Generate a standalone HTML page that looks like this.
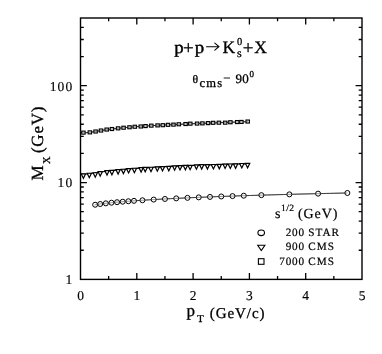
<!DOCTYPE html>
<html><head><meta charset="utf-8"><title>plot</title>
<style>html,body{margin:0;padding:0;background:#fff;}svg{display:block;filter:grayscale(1);}text{font-family:"Liberation Serif",serif;fill:#000;text-rendering:geometricPrecision;}</style></head><body>
<svg width="382" height="354" viewBox="0 0 382 354">
<rect x="0" y="0" width="382" height="354" fill="#fff"/>
<rect x="80.5" y="18.00" width="281.50" height="261.40" fill="none" stroke="#000" stroke-width="1.4"/>
<path d="M108.65 279.40v-3.3 M108.65 18.00v3.3 M136.80 279.40v-6.4 M136.80 18.00v6.4 M164.95 279.40v-3.3 M164.95 18.00v3.3 M193.10 279.40v-6.4 M193.10 18.00v6.4 M221.25 279.40v-3.3 M221.25 18.00v3.3 M249.40 279.40v-6.4 M249.40 18.00v6.4 M277.55 279.40v-3.3 M277.55 18.00v3.3 M305.70 279.40v-6.4 M305.70 18.00v6.4 M333.85 279.40v-3.3 M333.85 18.00v3.3 M80.5 250.25h3.3 M362.0 250.25h-3.3 M80.5 233.19h3.3 M362.0 233.19h-3.3 M80.5 221.09h3.3 M362.0 221.09h-3.3 M80.5 211.70h3.3 M362.0 211.70h-3.3 M80.5 204.04h3.3 M362.0 204.04h-3.3 M80.5 197.55h3.3 M362.0 197.55h-3.3 M80.5 191.94h3.3 M362.0 191.94h-3.3 M80.5 186.98h3.3 M362.0 186.98h-3.3 M80.5 182.55h6.4 M362.0 182.55h-6.4 M80.5 153.40h3.3 M362.0 153.40h-3.3 M80.5 136.34h3.3 M362.0 136.34h-3.3 M80.5 124.24h3.3 M362.0 124.24h-3.3 M80.5 114.85h3.3 M362.0 114.85h-3.3 M80.5 107.19h3.3 M362.0 107.19h-3.3 M80.5 100.70h3.3 M362.0 100.70h-3.3 M80.5 95.09h3.3 M362.0 95.09h-3.3 M80.5 90.13h3.3 M362.0 90.13h-3.3 M80.5 85.70h6.4 M362.0 85.70h-6.4 M80.5 56.55h3.3 M362.0 56.55h-3.3 M80.5 39.49h3.3 M362.0 39.49h-3.3 M80.5 27.39h3.3 M362.0 27.39h-3.3" stroke="#000" stroke-width="1.3" fill="none"/>
<polyline points="80.50,131.45 83.29,132.64 86.08,132.70 88.88,132.44 91.67,132.05 94.46,131.61 97.25,131.16 100.04,130.71 102.83,130.28 105.62,129.87 108.42,129.49 111.21,129.12 114.00,128.78 116.79,128.45 119.58,128.15 122.38,127.86 125.17,127.60 127.96,127.35 130.75,127.11 133.54,126.89 136.33,126.67 139.12,126.47 141.92,126.29 144.71,126.10 147.50,125.93 150.29,125.77 153.08,125.61 155.88,125.45 158.67,125.31 161.46,125.16 164.25,125.02 167.04,124.89 169.83,124.76 172.62,124.63 175.42,124.50 178.21,124.37 181.00,124.25 183.79,124.13 186.58,124.01 189.38,123.89 192.17,123.77 194.96,123.65 197.75,123.54 200.54,123.42 203.33,123.31 206.12,123.19 208.92,123.08 211.71,122.97 214.50,122.86 217.29,122.75 220.08,122.64 222.88,122.53 225.67,122.43 228.46,122.33 231.25,122.22 234.04,122.12 236.83,122.03 239.62,121.93 242.42,121.84 245.21,121.75 248.00,121.66" fill="none" stroke="#000" stroke-width="0.9"/>
<polyline points="80.50,173.92 83.32,174.21 86.13,174.01 88.95,173.67 91.77,173.27 94.58,172.87 97.40,172.47 100.22,172.08 103.03,171.70 105.85,171.34 108.67,171.00 111.48,170.67 114.30,170.36 117.12,170.07 119.93,169.79 122.75,169.52 125.57,169.26 128.38,169.02 131.20,168.79 134.02,168.57 136.83,168.36 139.65,168.16 142.47,167.96 145.28,167.78 148.10,167.60 150.92,167.43 153.73,167.27 156.55,167.11 159.37,166.96 162.18,166.81 165.00,166.67 167.82,166.53 170.63,166.39 173.45,166.26 176.27,166.14 179.08,166.01 181.90,165.89 184.72,165.78 187.53,165.67 190.35,165.55 193.17,165.45 195.98,165.34 198.80,165.24 201.62,165.14 204.43,165.04 207.25,164.95 210.07,164.85 212.88,164.76 215.70,164.67 218.52,164.58 221.33,164.50 224.15,164.42 226.97,164.34 229.78,164.26 232.60,164.18 235.42,164.11 238.23,164.04 241.05,163.97 243.87,163.90 246.68,163.83 249.50,163.77" fill="none" stroke="#000" stroke-width="1.1"/>
<polyline points="94.58,204.82 98.79,204.20 103.00,203.66 107.21,203.17 111.43,202.73 115.64,202.33 119.85,201.95 124.07,201.59 128.28,201.26 132.49,200.95 136.71,200.65 140.92,200.36 145.13,200.09 149.35,199.83 153.56,199.58 157.77,199.33 161.98,199.10 166.20,198.88 170.41,198.66 174.62,198.45 178.84,198.25 183.05,198.05 187.26,197.86 191.48,197.67 195.69,197.49 199.90,197.31 204.12,197.14 208.33,196.97 212.54,196.81 216.76,196.65 220.97,196.49 225.18,196.34 229.39,196.19 233.61,196.04 237.82,195.90 242.03,195.76 246.25,195.62 250.46,195.49 254.67,195.36 258.89,195.23 263.10,195.10 267.31,194.98 271.53,194.86 275.74,194.74 279.95,194.62 284.17,194.50 288.38,194.39 292.59,194.28 296.80,194.17 301.02,194.06 305.23,193.96 309.44,193.85 313.66,193.75 317.87,193.65 322.08,193.55 326.30,193.45 330.51,193.36 334.72,193.26 338.94,193.17 343.15,193.08 347.36,192.99" fill="none" stroke="#000" stroke-width="0.7"/>
<rect x="81.70" y="131.12" width="3.4" height="3.0" fill="#fff" stroke="#000" stroke-width="1.15"/>
<rect x="88.15" y="130.85" width="3.4" height="3.0" fill="#fff" stroke="#000" stroke-width="1.15"/>
<rect x="93.90" y="130.01" width="3.4" height="3.0" fill="#fff" stroke="#000" stroke-width="1.15"/>
<rect x="99.30" y="129.03" width="3.4" height="3.0" fill="#fff" stroke="#000" stroke-width="1.15"/>
<rect x="105.00" y="128.06" width="3.4" height="3.0" fill="#fff" stroke="#000" stroke-width="1.15"/>
<rect x="110.20" y="127.52" width="3.4" height="3.0" fill="#fff" stroke="#000" stroke-width="1.15"/>
<rect x="116.40" y="126.85" width="3.4" height="3.0" fill="#fff" stroke="#000" stroke-width="1.15"/>
<rect x="121.90" y="126.22" width="3.4" height="3.0" fill="#fff" stroke="#000" stroke-width="1.15"/>
<rect x="127.80" y="125.76" width="3.4" height="3.0" fill="#fff" stroke="#000" stroke-width="1.15"/>
<rect x="133.10" y="125.24" width="3.4" height="3.0" fill="#fff" stroke="#000" stroke-width="1.15"/>
<rect x="139.10" y="124.98" width="3.4" height="3.0" fill="#fff" stroke="#000" stroke-width="1.15"/>
<rect x="143.80" y="124.58" width="3.4" height="3.0" fill="#fff" stroke="#000" stroke-width="1.15"/>
<rect x="149.60" y="124.15" width="3.4" height="3.0" fill="#fff" stroke="#000" stroke-width="1.15"/>
<rect x="155.90" y="123.88" width="3.4" height="3.0" fill="#fff" stroke="#000" stroke-width="1.15"/>
<rect x="161.10" y="123.70" width="3.4" height="3.0" fill="#fff" stroke="#000" stroke-width="1.15"/>
<rect x="166.30" y="123.32" width="3.4" height="3.0" fill="#fff" stroke="#000" stroke-width="1.15"/>
<rect x="171.80" y="123.14" width="3.4" height="3.0" fill="#fff" stroke="#000" stroke-width="1.15"/>
<rect x="177.10" y="122.77" width="3.4" height="3.0" fill="#fff" stroke="#000" stroke-width="1.15"/>
<rect x="183.90" y="122.53" width="3.4" height="3.0" fill="#fff" stroke="#000" stroke-width="1.15"/>
<rect x="188.60" y="122.17" width="3.4" height="3.0" fill="#fff" stroke="#000" stroke-width="1.15"/>
<rect x="195.40" y="122.08" width="3.4" height="3.0" fill="#fff" stroke="#000" stroke-width="1.15"/>
<rect x="200.70" y="121.87" width="3.4" height="3.0" fill="#fff" stroke="#000" stroke-width="1.15"/>
<rect x="206.40" y="121.61" width="3.4" height="3.0" fill="#fff" stroke="#000" stroke-width="1.15"/>
<rect x="211.40" y="121.31" width="3.4" height="3.0" fill="#fff" stroke="#000" stroke-width="1.15"/>
<rect x="217.20" y="121.19" width="3.4" height="3.0" fill="#fff" stroke="#000" stroke-width="1.15"/>
<rect x="223.50" y="121.17" width="3.4" height="3.0" fill="#fff" stroke="#000" stroke-width="1.15"/>
<rect x="228.70" y="120.73" width="3.4" height="3.0" fill="#fff" stroke="#000" stroke-width="1.15"/>
<rect x="235.50" y="120.56" width="3.4" height="3.0" fill="#fff" stroke="#000" stroke-width="1.15"/>
<rect x="239.70" y="120.44" width="3.4" height="3.0" fill="#fff" stroke="#000" stroke-width="1.15"/>
<rect x="246.00" y="120.04" width="3.4" height="3.0" fill="#fff" stroke="#000" stroke-width="1.15"/>
<path d="M81.25 173.91H85.55L83.40 178.31Z" fill="#fff" stroke="#000" stroke-width="1.2"/>
<path d="M87.15 173.26H91.45L89.30 177.66Z" fill="#fff" stroke="#000" stroke-width="1.2"/>
<path d="M93.10 172.74H97.40L95.25 177.14Z" fill="#fff" stroke="#000" stroke-width="1.2"/>
<path d="M98.05 171.64H102.35L100.20 176.04Z" fill="#fff" stroke="#000" stroke-width="1.2"/>
<path d="M104.85 170.68H109.15L107.00 175.08Z" fill="#fff" stroke="#000" stroke-width="1.2"/>
<path d="M109.75 170.46H114.05L111.90 174.86Z" fill="#fff" stroke="#000" stroke-width="1.2"/>
<path d="M115.95 169.68H120.25L118.10 174.08Z" fill="#fff" stroke="#000" stroke-width="1.2"/>
<path d="M121.25 169.23H125.55L123.40 173.63Z" fill="#fff" stroke="#000" stroke-width="1.2"/>
<path d="M126.45 168.60H130.75L128.60 173.00Z" fill="#fff" stroke="#000" stroke-width="1.2"/>
<path d="M132.25 168.27H136.55L134.40 172.67Z" fill="#fff" stroke="#000" stroke-width="1.2"/>
<path d="M138.95 167.68H143.25L141.10 172.08Z" fill="#fff" stroke="#000" stroke-width="1.2"/>
<path d="M143.05 167.44H147.35L145.20 171.84Z" fill="#fff" stroke="#000" stroke-width="1.2"/>
<path d="M148.85 167.26H153.15L151.00 171.66Z" fill="#fff" stroke="#000" stroke-width="1.2"/>
<path d="M155.15 166.78H159.45L157.30 171.18Z" fill="#fff" stroke="#000" stroke-width="1.2"/>
<path d="M160.35 166.55H164.65L162.50 170.95Z" fill="#fff" stroke="#000" stroke-width="1.2"/>
<path d="M166.65 166.39H170.95L168.80 170.79Z" fill="#fff" stroke="#000" stroke-width="1.2"/>
<path d="M172.45 165.81H176.75L174.60 170.21Z" fill="#fff" stroke="#000" stroke-width="1.2"/>
<path d="M177.85 165.59H182.15L180.00 169.99Z" fill="#fff" stroke="#000" stroke-width="1.2"/>
<path d="M183.25 165.43H187.55L185.40 169.83Z" fill="#fff" stroke="#000" stroke-width="1.2"/>
<path d="M187.95 165.33H192.25L190.10 169.73Z" fill="#fff" stroke="#000" stroke-width="1.2"/>
<path d="M194.25 164.81H198.55L196.40 169.21Z" fill="#fff" stroke="#000" stroke-width="1.2"/>
<path d="M199.55 164.72H203.85L201.70 169.12Z" fill="#fff" stroke="#000" stroke-width="1.2"/>
<path d="M205.25 164.62H209.55L207.40 169.02Z" fill="#fff" stroke="#000" stroke-width="1.2"/>
<path d="M211.25 164.50H215.55L213.40 168.90Z" fill="#fff" stroke="#000" stroke-width="1.2"/>
<path d="M217.15 164.38H221.45L219.30 168.78Z" fill="#fff" stroke="#000" stroke-width="1.2"/>
<path d="M222.95 164.09H227.25L225.10 168.49Z" fill="#fff" stroke="#000" stroke-width="1.2"/>
<path d="M228.15 164.02H232.45L230.30 168.42Z" fill="#fff" stroke="#000" stroke-width="1.2"/>
<path d="M233.45 163.95H237.75L235.60 168.35Z" fill="#fff" stroke="#000" stroke-width="1.2"/>
<path d="M239.65 163.52H243.95L241.80 167.92Z" fill="#fff" stroke="#000" stroke-width="1.2"/>
<path d="M245.45 163.46H249.75L247.60 167.86Z" fill="#fff" stroke="#000" stroke-width="1.2"/>
<circle cx="95.14" cy="204.73" r="2.5" fill="#fff" stroke="#000" stroke-width="1.0"/>
<circle cx="100.20" cy="204.01" r="2.5" fill="#fff" stroke="#000" stroke-width="1.0"/>
<circle cx="105.84" cy="203.33" r="2.5" fill="#fff" stroke="#000" stroke-width="1.0"/>
<circle cx="111.47" cy="202.73" r="2.5" fill="#fff" stroke="#000" stroke-width="1.0"/>
<circle cx="117.09" cy="202.19" r="2.5" fill="#fff" stroke="#000" stroke-width="1.0"/>
<circle cx="122.72" cy="201.70" r="2.5" fill="#fff" stroke="#000" stroke-width="1.0"/>
<circle cx="128.35" cy="201.25" r="2.5" fill="#fff" stroke="#000" stroke-width="1.0"/>
<circle cx="133.98" cy="200.84" r="2.5" fill="#fff" stroke="#000" stroke-width="1.0"/>
<circle cx="142.43" cy="200.26" r="2.5" fill="#fff" stroke="#000" stroke-width="1.0"/>
<circle cx="153.69" cy="199.57" r="2.5" fill="#fff" stroke="#000" stroke-width="1.0"/>
<circle cx="164.95" cy="198.94" r="2.5" fill="#fff" stroke="#000" stroke-width="1.0"/>
<circle cx="176.21" cy="198.37" r="2.5" fill="#fff" stroke="#000" stroke-width="1.0"/>
<circle cx="187.47" cy="197.85" r="2.5" fill="#fff" stroke="#000" stroke-width="1.0"/>
<circle cx="198.73" cy="197.36" r="2.5" fill="#fff" stroke="#000" stroke-width="1.0"/>
<circle cx="209.99" cy="196.91" r="2.5" fill="#fff" stroke="#000" stroke-width="1.0"/>
<circle cx="221.25" cy="196.48" r="2.5" fill="#fff" stroke="#000" stroke-width="1.0"/>
<circle cx="232.51" cy="196.08" r="2.5" fill="#fff" stroke="#000" stroke-width="1.0"/>
<circle cx="243.77" cy="195.70" r="2.5" fill="#fff" stroke="#000" stroke-width="1.0"/>
<circle cx="261.39" cy="195.15" r="2.5" fill="#fff" stroke="#000" stroke-width="1.0"/>
<circle cx="289.37" cy="194.36" r="2.5" fill="#fff" stroke="#000" stroke-width="1.0"/>
<circle cx="318.09" cy="193.65" r="2.5" fill="#fff" stroke="#000" stroke-width="1.0"/>
<circle cx="347.36" cy="192.99" r="2.5" fill="#fff" stroke="#000" stroke-width="1.0"/>
<polyline points="94.58,204.82 98.79,204.20 103.00,203.66 107.21,203.17 111.43,202.73 115.64,202.33 119.85,201.95 124.07,201.59 128.28,201.26 132.49,200.95 136.71,200.65 140.92,200.36 145.13,200.09 149.35,199.83 153.56,199.58 157.77,199.33 161.98,199.10 166.20,198.88 170.41,198.66 174.62,198.45 178.84,198.25 183.05,198.05 187.26,197.86 191.48,197.67 195.69,197.49 199.90,197.31 204.12,197.14 208.33,196.97 212.54,196.81 216.76,196.65 220.97,196.49 225.18,196.34 229.39,196.19 233.61,196.04 237.82,195.90 242.03,195.76 246.25,195.62 250.46,195.49 254.67,195.36 258.89,195.23 263.10,195.10 267.31,194.98 271.53,194.86 275.74,194.74 279.95,194.62 284.17,194.50 288.38,194.39 292.59,194.28 296.80,194.17 301.02,194.06 305.23,193.96 309.44,193.85 313.66,193.75 317.87,193.65 322.08,193.55 326.30,193.45 330.51,193.36 334.72,193.26 338.94,193.17 343.15,193.08 347.36,192.99" fill="none" stroke="#333" stroke-width="0.5"/>
<polyline points="80.50,131.45 83.29,132.64 86.08,132.70 88.88,132.44 91.67,132.05 94.46,131.61 97.25,131.16 100.04,130.71 102.83,130.28 105.62,129.87 108.42,129.49 111.21,129.12 114.00,128.78 116.79,128.45 119.58,128.15 122.38,127.86 125.17,127.60 127.96,127.35 130.75,127.11 133.54,126.89 136.33,126.67 139.12,126.47 141.92,126.29 144.71,126.10 147.50,125.93 150.29,125.77 153.08,125.61 155.88,125.45 158.67,125.31 161.46,125.16 164.25,125.02 167.04,124.89 169.83,124.76 172.62,124.63 175.42,124.50 178.21,124.37 181.00,124.25 183.79,124.13 186.58,124.01 189.38,123.89 192.17,123.77 194.96,123.65 197.75,123.54 200.54,123.42 203.33,123.31 206.12,123.19 208.92,123.08 211.71,122.97 214.50,122.86 217.29,122.75 220.08,122.64 222.88,122.53 225.67,122.43 228.46,122.33 231.25,122.22 234.04,122.12 236.83,122.03 239.62,121.93 242.42,121.84 245.21,121.75 248.00,121.66" fill="none" stroke="#333" stroke-width="0.5"/>
<g opacity="0.999" stroke="#000" stroke-width="0.3">
<g stroke-width="0.15">
<text x="80.50" y="299.8" font-size="13.5" text-anchor="middle">0</text>
<text x="136.80" y="299.8" font-size="13.5" text-anchor="middle">1</text>
<text x="193.10" y="299.8" font-size="13.5" text-anchor="middle">2</text>
<text x="249.40" y="299.8" font-size="13.5" text-anchor="middle">3</text>
<text x="305.70" y="299.8" font-size="13.5" text-anchor="middle">4</text>
<text x="362.00" y="299.8" font-size="13.5" text-anchor="middle">5</text>
<text x="73.3" y="284.30" font-size="13.5" text-anchor="end" letter-spacing="1.1">1</text>
<text x="73.3" y="187.45" font-size="13.5" text-anchor="end" letter-spacing="1.1">10</text>
<text x="73.3" y="90.60" font-size="13.5" text-anchor="end" letter-spacing="1.1">100</text>
</g>
<text x="174.2" y="52.5" font-size="17.5" textLength="9.4" lengthAdjust="spacingAndGlyphs" stroke-width="0.4">p</text>
<text x="182.95" y="53.5" font-size="19">+</text>
<text x="194.7" y="52.5" font-size="17.5" textLength="9.4" lengthAdjust="spacingAndGlyphs" stroke-width="0.4">p</text>
<path d="M206.5 46.7H218.8M214.8 43.2L219 46.7L214.8 50.2" fill="none" stroke="#000" stroke-width="1.1" stroke-linecap="round" stroke-linejoin="round"/>
<text x="222.5" y="53" font-size="17.5">K</text>
<text x="237" y="44.9" font-size="10.5">0</text>
<text x="236.9" y="56.8" font-size="12">s</text>
<text x="242.75" y="53.5" font-size="19">+</text>
<text x="254.3" y="53" font-size="17.5">X</text>
<text x="192.6" y="83.4" font-size="11.3" textLength="5.6" lengthAdjust="spacingAndGlyphs">θ</text>
<text x="199.5" y="87" font-size="12.5" letter-spacing="1.2">cms</text>
<path d="M223.7 78H230" stroke="#000" stroke-width="0.9" fill="none"/>
<text x="235.5" y="83.2" font-size="13" letter-spacing="0.35">90</text>
<text x="249.4" y="76.7" font-size="9">0</text>
<g transform="translate(43,180.5) rotate(-90)">
<text x="0" y="0" font-size="17">M</text>
<text x="16.5" y="6.8" font-size="10.5">X</text>
<text x="27.4" y="0" font-size="17" letter-spacing="0.8">(GeV)</text>
</g>
<text x="186.5" y="316.3" font-size="17">p</text>
<text x="197.2" y="321.9" font-size="10.5">T</text>
<text x="209.7" y="317.6" font-size="15" letter-spacing="0.95">(GeV/c)</text>
<g stroke-width="0.2">
<text x="275" y="218.3" font-size="14">s</text>
<text x="281" y="210.5" font-size="9.6" letter-spacing="0.35">1/2</text>
<text x="298" y="218.3" font-size="14" letter-spacing="0.9">(GeV)</text>
<text x="305.0" y="236.3" font-size="11.2" text-anchor="end" letter-spacing="0.85">200</text>
<text x="308.3" y="236.3" font-size="11.2" letter-spacing="1.0">STAR</text>
<text x="305.0" y="250.4" font-size="11.2" text-anchor="end" letter-spacing="0.85">900</text>
<text x="308.3" y="250.4" font-size="11.2" letter-spacing="1.0">CMS</text>
<text x="305.0" y="264.5" font-size="11.2" text-anchor="end" letter-spacing="0.85">7000</text>
<text x="308.3" y="264.5" font-size="11.2" letter-spacing="1.0">CMS</text>
</g>
<ellipse cx="261.2" cy="232.8" rx="3.3" ry="2.8" fill="#fff" stroke="#000" stroke-width="1.1"/>
<path d="M257.7 245.3H264.9L261.3 250.6Z" fill="#fff" stroke="#000" stroke-width="1.1" stroke-linejoin="miter"/>
<rect x="258.4" y="258.7" width="5.6" height="5.6" fill="#fff" stroke="#000" stroke-width="1.1"/>
</g>
</svg></body></html>
